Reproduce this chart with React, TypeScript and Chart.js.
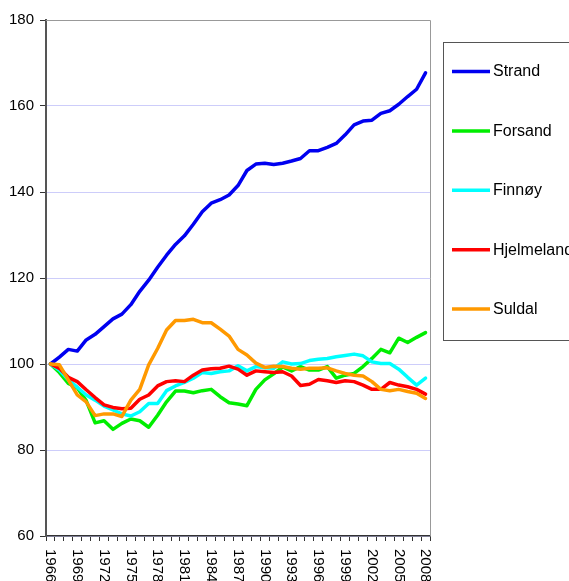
import React, { useEffect, useRef } from "react";
import { Chart, registerables } from "chart.js";

Chart.register(...registerables);

const years: string[] = [];
for (let y = 1966; y <= 2008; y++) years.push(String(y));

const seriesNames = ["Strand", "Forsand", "Finnøy", "Hjelmeland", "Suldal"];
const seriesColors = ["#0000f0", "#00ee00", "#00ffff", "#ff0000", "#ff9900"];

const strand = [100, 101.6, 103.4, 103.0, 105.6, 106.9, 108.7, 110.5, 111.6, 113.8, 116.9, 119.5, 122.5, 125.3, 127.8, 129.8, 132.5, 135.4, 137.4, 138.2, 139.3, 141.5, 145.0, 146.5, 146.7, 146.4, 146.7, 147.2, 147.8, 149.6, 149.6, 150.4, 151.3, 153.3, 155.6, 156.5, 156.7, 158.3, 158.9, 160.4, 162.2, 163.9, 167.7];
const forsand = [100, 98.0, 95.5, 94.5, 91.5, 86.3, 86.8, 84.8, 86.2, 87.2, 86.8, 85.3, 88.1, 91.2, 93.7, 93.7, 93.3, 93.8, 94.1, 92.4, 91.0, 90.7, 90.3, 94.1, 96.3, 97.7, 99.3, 98.4, 99.4, 98.6, 98.6, 99.4, 96.7, 97.4, 97.8, 99.4, 101.3, 103.4, 102.6, 106.0, 105.0, 106.2, 107.3];
const finnoy = [100, 98.6, 96.3, 94.6, 92.8, 91.6, 90.2, 89.3, 88.4, 87.9, 88.9, 90.8, 90.8, 93.8, 94.9, 95.7, 96.7, 98.0, 97.8, 98.2, 98.4, 99.6, 98.4, 99.4, 99.1, 99.0, 100.5, 100.0, 100.1, 100.8, 101.1, 101.3, 101.7, 102.0, 102.3, 101.9, 100.5, 100.1, 100.1, 98.8, 96.9, 95.1, 96.7];
const hjelmeland = [100, 99.0, 96.9, 95.9, 94.0, 92.2, 90.5, 89.9, 89.6, 89.7, 91.8, 92.8, 94.9, 95.9, 96.1, 95.9, 97.4, 98.6, 98.9, 99.0, 99.5, 98.8, 97.4, 98.4, 98.2, 98.0, 98.2, 97.2, 95.0, 95.3, 96.4, 96.1, 95.7, 96.1, 95.9, 95.1, 94.1, 94.1, 95.7, 95.1, 94.7, 94.1, 93.0];
const suldal = [100, 99.8, 96.3, 92.8, 91.2, 88.0, 88.4, 88.4, 87.8, 91.6, 94.1, 99.8, 103.6, 107.9, 110.1, 110.1, 110.4, 109.6, 109.6, 108.1, 106.5, 103.4, 102.1, 100.2, 99.2, 99.5, 99.4, 99.0, 98.8, 99.0, 99.0, 99.1, 98.4, 97.8, 97.4, 97.2, 95.9, 94.1, 93.8, 94.1, 93.6, 93.2, 92.0];

const seriesValues = [strand, forsand, finnoy, hjelmeland, suldal];
const yTicks = [60, 80, 100, 120, 140, 160, 180];

const FONT = "'Liberation Sans', Arial, sans-serif";

export default function App() {
  const ref = useRef<HTMLCanvasElement | null>(null);

  useEffect(() => {
    if (!ref.current) return;

    const framePlugin = {
      id: "frame",
      beforeDatasetsDraw(chart: any) {
        const { ctx, chartArea } = chart;
        ctx.save();
        ctx.strokeStyle = "#999999";
        ctx.lineWidth = 1;
        ctx.beginPath();
        ctx.moveTo(chartArea.left, chartArea.top + 0.5);
        ctx.lineTo(chartArea.right + 0.5, chartArea.top + 0.5);
        ctx.lineTo(chartArea.right + 0.5, chartArea.bottom);
        ctx.stroke();
        ctx.restore();
      },
    };

    const xLabelPlugin = {
      id: "xlabels",
      afterDraw(chart: any) {
        const { ctx } = chart;
        const xs = chart.scales.x;
        const top = chart.chartArea.bottom + 13;
        ctx.save();
        ctx.fillStyle = "#000";
        ctx.font = `15px ${FONT}`;
        ctx.textAlign = "left";
        ctx.textBaseline = "middle";
        years.forEach((lab, i) => {
          if (i % 3 !== 0) return;
          const x = xs.getPixelForValue(i);
          ctx.save();
          ctx.translate(x, top);
          ctx.rotate(Math.PI / 2);
          ctx.fillText(lab, 0, 0);
          ctx.restore();
        });
        ctx.restore();
      },
    };

    const legendPlugin = {
      id: "boxlegend",
      afterDraw(chart: any) {
        const { ctx } = chart;
        ctx.save();
        ctx.strokeStyle = "#555";
        ctx.lineWidth = 1;
        ctx.strokeRect(443.5, 42.5, 200, 298);
        ctx.font = `16px ${FONT}`;
        ctx.textBaseline = "middle";
        ctx.textAlign = "left";
        seriesNames.forEach((name, i) => {
          const y = 71.5 + i * 59.4;
          ctx.strokeStyle = seriesColors[i];
          ctx.lineWidth = 3.5;
          ctx.beginPath();
          ctx.moveTo(452, y);
          ctx.lineTo(490, y);
          ctx.stroke();
          ctx.fillStyle = "#000";
          ctx.fillText(name, 493, y + 0.5);
        });
        ctx.restore();
      },
    };

    const chart = new Chart(ref.current, {
      type: "line",
      data: {
        labels: years,
        datasets: seriesNames.map((name, i) => ({
          label: name,
          data: seriesValues[i],
          borderColor: seriesColors[i],
          backgroundColor: seriesColors[i],
          borderWidth: 3.5,
          pointRadius: 0,
          tension: 0,
          fill: false,
          order: seriesNames.length - i,
          borderCapStyle: "round" as const,
          borderJoinStyle: "round" as const,
        })),
      },
      options: {
        animation: false,
        responsive: true,
        maintainAspectRatio: false,
        layout: { padding: { top: 20, right: 139, left: 0, bottom: 0 } },
        plugins: {
          legend: { display: false },
          tooltip: { enabled: false },
          title: { display: false },
        },
        scales: {
          x: {
            type: "category",
            offset: true,
            grid: {
              offset: true,
              drawOnChartArea: false,
              drawTicks: true,
              tickLength: 5,
              tickColor: "#333",
              lineWidth: 1,
            },
            border: { display: true, color: "#333", width: 1.5 },
            ticks: {
              autoSkip: false,
              maxRotation: 0,
              minRotation: 0,
              callback: () => "",
            },
            afterFit: (s: any) => {
              s.height = 45;
            },
          },
          y: {
            min: 60,
            max: 180,
            afterBuildTicks: (s: any) => {
              s.ticks = yTicks.map((v) => ({ value: v }));
            },
            ticks: {
              color: "#000",
              font: { family: FONT, size: 15 },
              padding: 6,
            },
            grid: {
              color: (c: any) =>
                c.tick && c.tick.value === 180 ? "#999999" : "rgb(205,205,250)",
              tickColor: "#333",
              tickLength: 6,
              lineWidth: 1,
            },
            border: { display: true, color: "#555", width: 2 },
            afterFit: (s: any) => {
              s.width = 46;
            },
          },
        },
      },
      plugins: [framePlugin, xLabelPlugin, legendPlugin],
    });

    return () => chart.destroy();
  }, []);

  return (
    <div style={{ position: "absolute", left: 0, top: 0, width: 569, height: 581, background: "#fff" }}>
      <canvas ref={ref} />
    </div>
  );
}
